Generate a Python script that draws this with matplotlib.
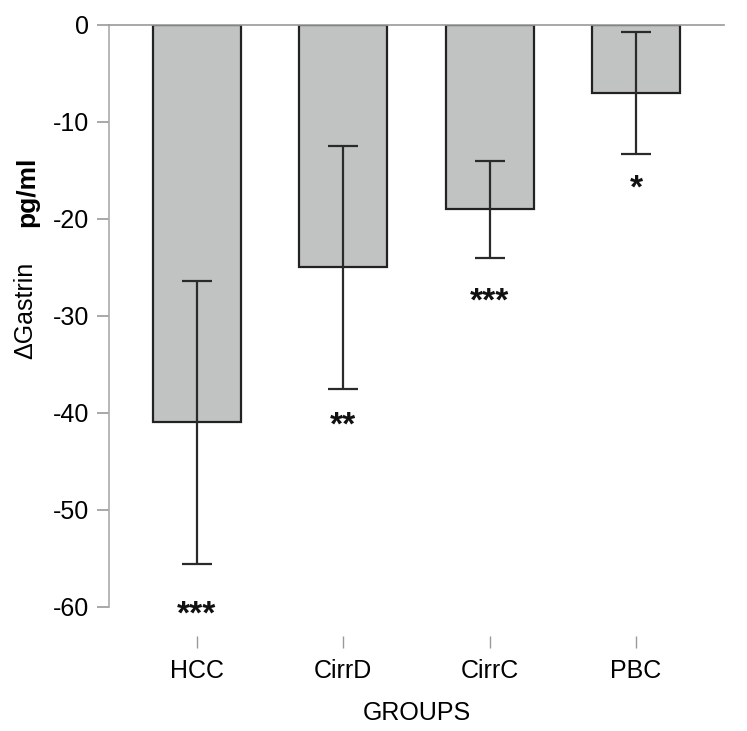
import numpy as np
import matplotlib.pyplot as plt

plt.rcParams['font.family'] = ['Liberation Sans', 'DejaVu Sans']
plt.rcParams['axes.unicode_minus'] = False

grupos = ['HCC', 'CirrD', 'CirrC', 'PBC']
medias = [-41.0, -25.0, -19.0, -7.0]
errores = [14.6, 12.5, 5.0, 6.3]
signif = ['***', '**', '***', '*']
signif_y = [-60.0, -40.5, -27.7, -16.0]

fig = plt.figure(figsize=(7.47, 7.31), dpi=100)
ax = fig.add_axes([0.146, 0.170, 0.823, 0.796])

x = np.arange(len(grupos))
ax.bar(x, medias, width=0.6, color='#c1c3c3', edgecolor='#222222', linewidth=1.6, zorder=2)
ax.errorbar(x, medias, yerr=errores, fmt='none', ecolor='#2a2a2a', elinewidth=1.6,
            capsize=10.5, capthick=1.6, zorder=3)

# asteriscos de significancia
for xi, s, sy in zip(x, signif, signif_y):
    ax.text(xi, sy - 0.9, s, ha='center', va='center', fontsize=24, fontweight='bold', color='#111111')

ax.set_xlim(-0.6, 3.6)
ax.set_ylim(-60, 0)
ax.set_yticks([0, -10, -20, -30, -40, -50, -60])
ax.set_xticks(x)
ax.set_xticklabels(grupos)

for s in ['right', 'bottom']:
    ax.spines[s].set_visible(False)
ax.spines['bottom'].set_position(('outward', 21))
ax.spines['left'].set_color('#aaaaaa')
ax.spines['top'].set_color('#999999')
ax.spines['left'].set_linewidth(1.2)
ax.spines['top'].set_linewidth(1.2)

ax.tick_params(axis='y', length=8.6, width=1.2, color='#999999', labelsize=18, pad=6)
ax.tick_params(axis='x', length=8.6, width=1.0, color='#999999', labelsize=18, pad=8)

ax.set_xlabel('GROUPS', fontsize=18, labelpad=13)

fig.text(0.034, 0.575, 'ΔGastrin', rotation=90, ha='center', va='center', fontsize=18)
fig.text(0.037, 0.737, 'pg/ml', rotation=90, ha='center', va='center', fontsize=19, fontweight='bold')

plt.savefig('out.png', dpi=100)
